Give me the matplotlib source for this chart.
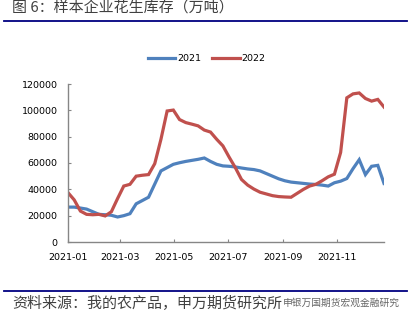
import matplotlib
matplotlib.use("Agg")
import matplotlib.pyplot as plt
import matplotlib.dates as mdates
from matplotlib.lines import Line2D
import pandas as pd

# ---- data ----
dates = pd.date_range("2021-01-01", periods=52, freq="7D")
series_names = ["2021", "2022"]
values_2021 = [26500, 26500, 25800, 25000, 23000, 21000, 20700, 20300, 19000, 20000,
               21500, 29000, 31500, 34000, 44000, 54000, 56500, 59000, 60200, 61200,
               62000, 62800, 63800, 61200, 59000, 57800, 57500, 57000, 56200, 55500,
               55000, 54000, 52000, 50000, 48000, 46500, 45500, 45000, 44500, 44000,
               43700, 43200, 42500, 45000, 46200, 48200, 55700, 62500, 51200, 57500,
               58200, 44500]
values_2022 = [37500, 32000, 23500, 21000, 20700, 21000, 19800, 23000, 33000, 42500,
               43800, 50000, 50700, 51200, 59500, 78000, 99500, 100200, 93000, 90700,
               89500, 88200, 85000, 83500, 78000, 73000, 64500, 56500, 47500, 43200,
               40200, 37800, 36500, 35200, 34500, 34200, 34000, 37000, 40000, 42500,
               43800, 46500, 49500, 51500, 68000, 109500, 112500, 113200, 109000, 107000,
               108300, 102500]
y_ticks = [0, 20000, 40000, 60000, 80000, 100000, 120000]
title_text = "图 6：样本企业花生库存（万吨）"
source_text = "资料来源：我的农产品，申万期货研究所"
watermark_text = "申银万国期货宏观金融研究"

W, H = 412, 325
fig = plt.figure(figsize=(W / 100, H / 100), dpi=100)
fig.patch.set_facecolor("white")

cjk = ["Noto Sans CJK SC", "DejaVu Sans"]
navy = "#000080"
text_col = "#404040"

# title and top rule
fig.text(12 / W, 1 - 7.5 / H, title_text, family=cjk, fontsize=10.8,
         color=text_col, ha="left", va="center")
fig.add_artist(Line2D([4 / W, 407 / W], [1 - 21 / H, 1 - 21 / H],
                      transform=fig.transFigure, color=navy, lw=1.3))

# footer rule and source
fig.add_artist(Line2D([4 / W, 407 / W], [1 - 291 / H, 1 - 291 / H],
                      transform=fig.transFigure, color=navy, lw=1.3))
fig.text(12 / W, 1 - 303 / H, source_text, family=cjk, fontsize=10.8,
         color=text_col, ha="left", va="center")
fig.text(283 / W, 1 - 303 / H, watermark_text, family=cjk, fontsize=7.0,
         color="#555555", ha="left", va="center", alpha=0.9)

# axes
ax = fig.add_axes([68 / W, 1 - 242 / H, (384 - 68) / W, (242 - 84) / H])
colors = ["#4F81BD", "#C0504D"]
for name, vals, c in zip(series_names, [values_2021, values_2022], colors):
    ax.plot(dates, vals, color=c, lw=2.3, label=name, solid_joinstyle="miter")

ax.set_xlim(dates[0], dates[-1])
ax.set_ylim(0, 120000)
ax.set_yticks(y_ticks)
ax.set_yticklabels([str(v) for v in y_ticks])
ax.xaxis.set_major_locator(mdates.MonthLocator(bymonth=[1, 3, 5, 7, 9, 11]))
ax.xaxis.set_major_formatter(mdates.DateFormatter("%Y-%m"))

for s in ["top", "right"]:
    ax.spines[s].set_visible(False)
for s in ["left", "bottom"]:
    ax.spines[s].set_color("#868686")
    ax.spines[s].set_linewidth(1.0)
ax.tick_params(axis="both", direction="in", length=2.5, width=0.8,
               color="#868686", labelsize=6.8, labelcolor="#000000")
ax.tick_params(axis="y", pad=7.5)
ax.tick_params(axis="x", pad=8)
ax.set_facecolor("white")

fig.legend(loc="center", bbox_to_anchor=(206.5 / W, 1 - 58.5 / H), ncol=2,
           frameon=False, fontsize=6.8, handlelength=2.9, handletextpad=0.2,
           columnspacing=1.2, borderaxespad=0, borderpad=0)

fig.savefig("out.png", dpi=100)
